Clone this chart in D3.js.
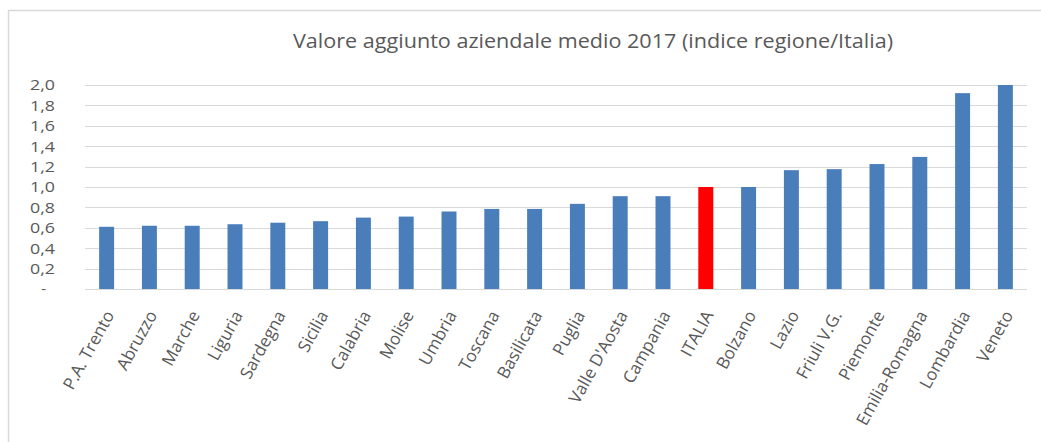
<!DOCTYPE html>
<html>
<head>
<meta charset="utf-8">
<script src="https://cdn.jsdelivr.net/npm/d3@7"></script>
<style>
  html, body { margin: 0; padding: 0; background: #fff; }
  svg { display: block; }
  text { font-family: "Open Sans", "Liberation Sans", sans-serif; fill: #595959; }
</style>
</head>
<body>
<svg id="chart" width="1041" height="442"></svg>
<script>
const categories = ["P.A. Trento","Abruzzo","Marche","Liguria","Sardegna","Sicilia","Calabria","Molise","Umbria","Toscana","Basilicata","Puglia","Valle D'Aosta","Campania","ITALIA","Bolzano","Lazio","Friuli V.G.","Piemonte","Emilia-Romagna","Lombardia","Veneto"];
const values = [0.61,0.62,0.62,0.635,0.65,0.665,0.70,0.71,0.76,0.785,0.785,0.835,0.91,0.91,1.00,1.00,1.165,1.175,1.225,1.295,1.92,2.00];
const yTicks = [0,0.2,0.4,0.6,0.8,1.0,1.2,1.4,1.6,1.8,2.0];
const highlight = "ITALIA";
const title = "Valore aggiunto aziendale medio 2017 (indice regione/Italia)";

const svg = d3.select("#chart");
const W = 1041, H = 442;
const m = {left: 85, right: 14, top: 85, bottom: 153};

// outer frame (left & top edges visible)
svg.append("line").attr("x1", 8.5).attr("x2", 8.5).attr("y1", 10).attr("y2", H).attr("stroke", "#d9d9d9").attr("stroke-width", 1.5);
svg.append("line").attr("x1", 8).attr("x2", W).attr("y1", 10.5).attr("y2", 10.5).attr("stroke", "#d9d9d9").attr("stroke-width", 1.5);

const x = d3.scaleBand().domain(categories).range([m.left, W - m.right]).paddingInner(0.65).paddingOuter(0.33);
const y = d3.scaleLinear().domain([0, 2]).range([H - m.bottom, m.top]);

// gridlines
svg.append("g").selectAll("line").data(yTicks).join("line")
  .attr("x1", m.left).attr("x2", W - m.right)
  .attr("y1", d => Math.round(y(d)) + 0.5).attr("y2", d => Math.round(y(d)) + 0.5)
  .attr("stroke", "#d9d9d9").attr("stroke-width", 1.2);

// y axis labels
const fmt = d => d === 0 ? "-" : d.toFixed(1).replace(".", ",");
svg.append("g").selectAll("text").data(yTicks).join("text")
  .attr("x", d => d === 0 ? 46 : 55).attr("y", d => y(d)).attr("dy", "0.36em")
  .attr("text-anchor", "end").attr("font-size", 15)
  .attr("textLength", d => d === 0 ? null : 25).attr("lengthAdjust", "spacingAndGlyphs")
  .text(fmt);

// bars
svg.append("g").selectAll("rect").data(categories).join("rect")
  .attr("x", d => x(d)).attr("width", x.bandwidth())
  .attr("y", (d, i) => y(values[i])).attr("height", (d, i) => y(0) - y(values[i]))
  .attr("fill", d => d === highlight ? "#ff0000" : "#4a7ebb");

// x labels
svg.append("g").selectAll("text").data(categories).join("text")
  .attr("transform", d => `translate(${x(d) + x.bandwidth() / 2 + 3},${y(0) + 23}) rotate(-61)`)
  .attr("text-anchor", "end").attr("dy", "0.35em").attr("font-size", 17)
  .text(d => d);

// title
svg.append("text").attr("x", 593).attr("y", 48).attr("text-anchor", "middle")
  .attr("font-size", 20.5).attr("textLength", 600).attr("lengthAdjust", "spacingAndGlyphs")
  .text(title);
</script>
</body>
</html>
